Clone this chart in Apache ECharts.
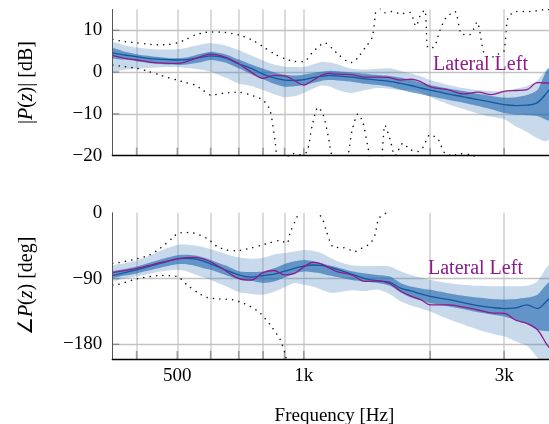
<!DOCTYPE html>
<html><head><meta charset="utf-8">
<script src="https://cdn.jsdelivr.net/npm/echarts@6/dist/echarts.min.js"></script>
<style>html,body{margin:0;padding:0;background:#fff}#c{width:549px;height:424px}</style>
</head><body><div id="c"></div>
<script>
// ---------- data ----------
const freqs = [350,375,400,425,450,475,500,525,550,575,600,650,700,750,800,850,900,950,1000,1050,1100,1150,1200,1300,1400,1500,1600,1700,1800,1900,2000,2200,2400,2600,2800,3000,3200,3400,3600,3800,4000];

const magMedian = [4.6,4.1,3.7,3.3,3.1,3.0,2.9,3.0,3.3,3.6,3.9,3.4,2.0,0.9,-0.5,-1.4,-1.9,-2.0,-1.8,-1.3,-1.0,-0.8,-0.9,-1.2,-1.6,-1.9,-2.2,-2.7,-3.2,-3.8,-4.3,-5.2,-5.9,-6.6,-7.2,-7.8,-8.0,-7.9,-7.3,-4.8,-2.0];
const magLateral = [4.0,3.3,2.9,2.5,2.2,2.1,2.1,2.5,3.2,3.9,4.3,3.6,2.0,0.0,-1.5,-0.8,-0.9,-2.0,-3.1,-2.0,-0.8,-0.3,-0.5,-0.6,-1.2,-1.2,-1.3,-1.9,-1.7,-2.3,-3.5,-4.2,-5.2,-4.8,-5.4,-4.6,-4.4,-4.2,-2.5,-2.6,-4.0];
const magOuterHi = [7.0,6.4,5.9,5.6,5.4,5.4,5.5,5.8,6.3,6.7,6.9,6.4,5.3,4.0,2.8,1.8,1.3,1.2,1.2,1.8,2.4,2.3,1.9,0.8,0.6,0.8,0.9,0.3,-0.3,-1.0,-1.9,-3.0,-3.8,-4.3,-4.5,-4.6,-4.0,-3.3,-2.0,0.8,2.0];
const magOuterLo = [0.3,0.6,0.8,1.0,1.1,1.2,1.2,1.0,0.8,0.5,0.1,-1.3,-2.7,-3.3,-4.3,-5.3,-6.0,-5.8,-5.0,-4.0,-3.2,-3.4,-4.2,-5.0,-4.3,-3.8,-4.0,-4.3,-4.3,-4.8,-5.9,-7.6,-8.8,-9.9,-10.7,-11.3,-13.0,-14.3,-15.8,-16.5,-13.0];
const magInnerHi = [5.7,4.9,4.3,3.9,3.6,3.4,3.3,3.5,4.0,4.5,4.9,4.3,3.0,1.8,0.8,0.0,-0.6,-0.8,-0.6,-0.2,0.1,0.3,0.2,-0.1,-0.4,-0.7,-0.9,-1.3,-1.9,-2.5,-3.1,-3.9,-4.5,-5.2,-5.7,-6.1,-6.0,-5.5,-4.3,0.5,1.5];
const magInnerLo = [3.4,3.0,2.6,2.2,2.0,1.8,1.7,1.8,2.1,2.5,2.9,2.3,0.9,-0.5,-1.7,-2.8,-3.5,-3.4,-3.1,-2.6,-2.1,-1.9,-2.0,-2.3,-2.8,-3.1,-3.5,-4.2,-4.8,-5.3,-5.8,-6.6,-7.3,-8.1,-8.9,-9.8,-10.2,-10.3,-10.5,-11.5,-12.0];

const phMedian = [-86,-82,-78,-74,-70,-66.5,-63,-62.5,-63,-66,-70,-78,-85,-88,-86,-84,-80,-76,-73,-71.5,-72,-74.5,-77.5,-84,-90,-93,-95,-103,-107,-111,-114.5,-118.5,-123,-127,-129.5,-131,-130,-126,-131,-120,-108];
const phLateral = [-82,-79,-76,-72.5,-69,-66,-63,-61.5,-61,-63,-67,-79,-90,-92,-82,-79,-85,-83,-74,-68,-70,-75.5,-80.5,-85,-94,-93.5,-96.5,-107,-114,-119,-126,-126,-129,-133,-137,-137.5,-147,-151.5,-160,-181,-195];
const phOuterHi = [-73,-69,-65.5,-60,-53.5,-48,-44,-43.5,-45,-47,-50,-56,-61,-63,-61.5,-57,-55,-53,-51,-52,-55,-61,-66,-72,-73,-73,-73.5,-80,-85,-88.5,-92,-96,-98.5,-100,-100.5,-100.5,-100.5,-100,-94,-74,-65];
const phOuterLo = [-92.5,-90,-87,-84,-81,-79,-78,-80,-84,-88,-92,-100,-108.5,-111,-112,-108,-102,-96,-98.5,-101,-105,-109,-109,-106,-107,-105,-111,-121,-127,-131,-135,-145,-153,-160,-165,-169,-176,-182,-198,-215,-220];
const phInnerHi = [-80.5,-77,-73.5,-69,-65,-61,-58,-57.5,-58.5,-61,-64.5,-72,-80,-81,-80.5,-76,-70,-66.5,-64.5,-66,-69,-72,-74.5,-80,-83,-85,-87,-96,-101,-103.7,-105.5,-110,-113.5,-116,-118,-118.6,-118,-116,-112,-97,-90];
const phInnerLo = [-88.5,-86,-83,-79.5,-76,-73,-70.5,-70.5,-72.5,-75.5,-78,-85,-90.5,-93,-96,-94,-88.6,-83,-80.5,-81.5,-83,-86,-88,-92,-94,-96,-99.5,-109,-116,-120,-123.5,-128,-132,-136,-139,-142,-147,-152,-160,-162,-160];

const magMaxFreqs = [351,375,401,426,455,475,499,524,551,575,601,649,701,749,800,849,902,948,1001,1052,1123,1174,1200,1267,1303,1346,1399,1453,1478,1494,1561,1622,1704,1790,1850,1901,1944,1976,2042,2110,2180,2291,2380,2487,2585,2686,2776,2900,2997,3064,3201,3456,3794,4009];
const magMax = [7.8,7.3,7.0,6.7,6.5,6.6,7.0,7.8,8.9,9.4,9.6,9.5,8.9,7.8,6.1,4.4,3.2,2.6,2.5,4.9,7.0,5.5,4.5,2.6,2.3,3.5,5.8,8.2,12.9,16,14.2,14.5,14.0,14.3,11.0,14.0,14.8,5.8,6.0,10,13,14.5,9,9,12,4.5,3.4,4.3,5,13,14.5,14.5,15,15];
const magMinFreqs = [351,375,401,426,455,475,499,524,551,575,601,649,701,749,800,831,854,873,943,979,1018,1046,1081,1111,1142,1174,1220,1267,1303,1346,1383,1422,1453,1519,1561,1604,1649,1723,1790,1870,1922,1998,2087,2169,2266,2354,2487,2628,2776,4009];
const magMin = [1.7,1.3,0.9,0.2,-0.7,-1.3,-1.9,-2.5,-3.1,-4.3,-5.5,-5.0,-4.8,-5.5,-6.7,-9.1,-16.3,-22,-19.5,-19.8,-19,-13,-8.4,-10,-15,-21,-22,-21,-14,-10,-12,-18,-22,-22,-12.7,-16,-20,-17,-18.5,-19,-18,-15,-16,-19.5,-20,-19.5,-19.8,-21,-25,-25];

const phMaxFreqs = [351,359,401,430,455,486,502,536,588,621,656,693,745,787,831,878,912,927,953,969,990,1035,1081,1111,1130,1155,1180,1240,1324,1370,1440,1478,1510,1600,1700,4009];
const phMax = [-69,-68.6,-63,-57.7,-48.6,-35,-28,-27,-35,-46,-51,-52,-48.6,-45,-41,-38,-42,-28,-12,-3,5,8,0,-10,-23.6,-39.5,-47.7,-47.7,-53,-49,-42,-30,-7.7,2,8,10];
const phMinFreqs = [351,359,401,455,499,527,557,588,632,678,717,745,787,831,878,902,927,4009];
const phMin = [-99,-98.6,-90.4,-86,-87,-98.6,-108.6,-115.9,-118,-119,-123.6,-128,-137,-153,-173,-191.7,-210,-240];

const gridFreqs = [400,500,600,700,800,900,1000,2000,3000];
const freqTickValues = [500,1000,3000];
const freqTickLabels = ['500','1k','3k'];
const magTicks = [10,0,-10,-20];
const phTicks = [0,-90,-180];
const seriesLabel = 'Lateral Left';

// ---------- styling ----------
const SERIF = '"Liberation Serif","Times New Roman",serif';
const X_MIN = 350, X_MAX = 4000;
const MAG_RANGE = [-20, 15], PH_RANGE = [-200, 0];
const C_OUTER = 'rgba(70,130,190,0.30)';
const C_INNER = 'rgba(25,98,172,0.58)';
const C_MEDIAN = '#11589f';
const C_LATERAL = '#8e1b8c';
const GRID_V = '#d2d2d2', GRID_H = '#c2c2c2';

const zip = (xs, ys) => xs.map((x, i) => [x, ys[i]]);
const fmt = v => (v < 0 ? '\u2212' + Math.abs(v) : String(v));

function band(idx, upper, lower, color, z) {
  return {
    type: 'custom', xAxisIndex: idx, yAxisIndex: idx, clip: true, silent: true, z: z,
    animation: false,
    data: [[1000, idx === 0 ? 0 : -90]],
    renderItem: function (params, api) {
      const pts = [];
      for (let i = 0; i < freqs.length; i++) pts.push(api.coord([freqs[i], upper[i]]));
      for (let i = freqs.length - 1; i >= 0; i--) pts.push(api.coord([freqs[i], lower[i]]));
      return { type: 'polygon', shape: { points: pts, smooth: 0.25 }, style: { fill: color } };
    }
  };
}
function line(idx, data, color, width, z, extra) {
  return Object.assign({
    type: 'line', xAxisIndex: idx, yAxisIndex: idx, data: data, symbol: 'none', showSymbol: false,
    smooth: 0.35, clip: true, silent: true, animation: false, z: z,
    lineStyle: { color: color, width: width }
  }, extra || {});
}
function dotted(idx, data) {
  return line(idx, data, '#000', 1.5, 22, {
    smooth: 0.25,
    lineStyle: { color: '#111', width: 1.5, type: [0.1, 6.3], cap: 'round' }
  });
}
function ticks(idx, yMin, yTickVals) {
  return {
    type: 'custom', xAxisIndex: idx, yAxisIndex: idx, silent: true, clip: false, z: 3, animation: false,
    data: [[1000, yMin]],
    renderItem: function (params, api) {
      const children = gridFreqs.map(function (f) {
        const a = api.coord([f, yMin]);
        return { type: 'line', shape: { x1: a[0], y1: a[1], x2: a[0], y2: a[1] - 8 }, style: { stroke: '#9a9a9a', lineWidth: 1.6 } };
      });
      yTickVals.forEach(function (v) {
        const a = api.coord([X_MIN, v]);
        children.push({ type: 'line', shape: { x1: a[0], y1: a[1], x2: a[0] + 7, y2: a[1] }, style: { stroke: '#8a8a8a', lineWidth: 1.3 } });
      });
      return { type: 'group', children: children };
    }
  };
}
function gridLines(idx, yMin, yMax, yTickVals, yLineVals, withXLabels) {
  const data = [];
  gridFreqs.forEach(function (f) {
    const k = freqTickValues.indexOf(f);
    const showLab = withXLabels && k >= 0;
    data.push([
      { name: showLab ? freqTickLabels[k] : '', coord: [f, yMin],
        lineStyle: { color: GRID_V, width: 1.6, type: 'solid' },
        label: { show: showLab, position: 'start', distance: 8, formatter: '{b}', fontFamily: SERIF, fontSize: 19, color: '#000' } },
      { coord: [f, yMax] }
    ]);
  });
  yTickVals.forEach(function (v) {
    const vis = yLineVals.indexOf(v) >= 0;
    data.push([
      { name: fmt(v), coord: [X_MIN, v],
        lineStyle: { color: vis ? GRID_H : 'rgba(255,255,255,0)', width: 1.3, type: 'solid' },
        label: { show: true, position: 'start', distance: 10, formatter: '{b}', fontFamily: SERIF, fontSize: 19, color: '#000' } },
      { coord: [X_MAX, v] }
    ]);
  });
  return {
    type: 'line', xAxisIndex: idx, yAxisIndex: idx, data: [], clip: false, silent: true, z: 1, animation: false,
    markLine: { silent: true, z: 1, symbol: ['none', 'none'], animation: false, data: data }
  };
}

const nameStyle = {
  fontFamily: SERIF, fontSize: 20, color: '#000',
  rich: { i: { fontFamily: SERIF, fontSize: 20, fontStyle: 'italic', color: '#000' } }
};
function xAxis(idx, withName) {
  const a = {
    gridIndex: idx, type: 'log', logBase: 10, min: X_MIN, max: X_MAX,
    axisLine: { show: true, onZero: false, lineStyle: { color: '#000', width: 1.3 } },
    axisTick: { show: false }, axisLabel: { show: false }, splitLine: { show: false },
    minorTick: { show: false }, minorSplitLine: { show: false }, z: 30
  };
  if (withName) {
    a.name = 'Frequency [Hz]'; a.nameLocation = 'middle'; a.nameGap = 48;
    a.nameTextStyle = { fontFamily: SERIF, fontSize: 19, color: '#000' };
  }
  return a;
}
function yAxis(idx, range, name) {
  return {
    gridIndex: idx, type: 'value', min: range[0], max: range[1],
    axisLine: { show: true, onZero: false, lineStyle: { color: '#555', width: 1 } },
    axisTick: { show: false }, axisLabel: { show: false }, splitLine: { show: false }, z: 30,
    name: name, nameLocation: 'middle', nameRotate: 90, nameGap: 76, nameTextStyle: nameStyle
  };
}

const chart = echarts.init(document.getElementById('c'), null, { renderer: 'canvas', width: 549, height: 424 });
chart.setOption({
  backgroundColor: '#fff',
  animation: false,
  grid: [
    { left: 112.3, right: -7.6, top: 9.45, height: 146.25, containLabel: false, outerBoundsMode: 'none' },
    { left: 112.3, right: -7.6, top: 212.7, height: 146.3, containLabel: false, outerBoundsMode: 'none' }
  ],
  xAxis: [xAxis(0, false), xAxis(1, true)],
  yAxis: [
    yAxis(0, MAG_RANGE, '|{i|P}({i|z})| [dB]'),
    yAxis(1, PH_RANGE, '\u2220{i|P}({i|z}) [deg]')
  ],
  series: [
    gridLines(0, MAG_RANGE[0], MAG_RANGE[1], magTicks, [10, 0, -10], false),
    gridLines(1, PH_RANGE[0], PH_RANGE[1], phTicks, [-90, -180], true),
    ticks(0, MAG_RANGE[0], [10, 0, -10]),
    ticks(1, PH_RANGE[0], [-90, -180]),
    band(0, magOuterHi, magOuterLo, C_OUTER, 20),
    band(0, magInnerHi, magInnerLo, C_INNER, 21),
    band(1, phOuterHi, phOuterLo, C_OUTER, 20),
    band(1, phInnerHi, phInnerLo, C_INNER, 21),
    dotted(0, zip(magMaxFreqs, magMax)),
    dotted(0, zip(magMinFreqs, magMin)),
    dotted(1, zip(phMaxFreqs, phMax)),
    dotted(1, zip(phMinFreqs, phMin)),
    line(0, zip(freqs, magMedian), C_MEDIAN, 1.3, 23),
    line(1, zip(freqs, phMedian), C_MEDIAN, 1.3, 23),
    line(0, zip(freqs, magLateral), C_LATERAL, 1.3, 24),
    line(1, zip(freqs, phLateral), C_LATERAL, 1.3, 24)
  ],
  graphic: [
    { type: 'text', x: 433, y: 64.3, z: 40, style: { text: seriesLabel, fontFamily: SERIF, fontSize: 20, fill: C_LATERAL, verticalAlign: 'middle', align: 'left' } },
    { type: 'text', x: 428, y: 268.3, z: 40, style: { text: seriesLabel, fontFamily: SERIF, fontSize: 20, fill: C_LATERAL, verticalAlign: 'middle', align: 'left' } }
  ]
});
</script>
</body></html>
